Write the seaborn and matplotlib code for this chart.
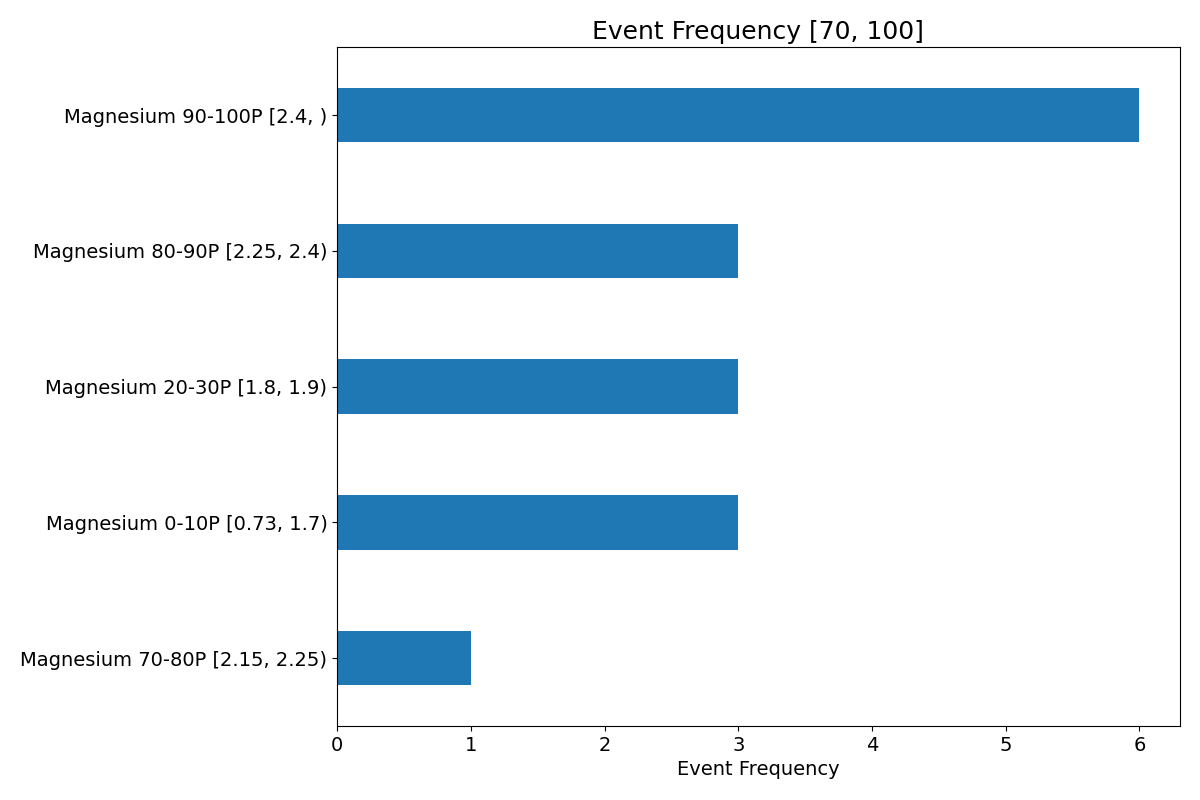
import matplotlib
matplotlib.use("Agg")
import matplotlib.pyplot as plt
import pandas as pd
import seaborn as sns

CATEGORIES = [
    "Magnesium 90-100P [2.4, )",
    "Magnesium 80-90P [2.25, 2.4)",
    "Magnesium 20-30P [1.8, 1.9)",
    "Magnesium 0-10P [0.73, 1.7)",
    "Magnesium 70-80P [2.15, 2.25)",
]
FREQUENCIES = [6, 3, 3, 3, 1]

df = pd.DataFrame({"category": CATEGORIES, "freq": FREQUENCIES})

fig, ax = plt.subplots(figsize=(12, 8), dpi=100)
sns.barplot(data=df, x="freq", y="category", orient="h", color="#1f77b4",
            saturation=1, width=0.4, ax=ax)
ax.set_title("Event Frequency [70, 100]", fontsize=18)
ax.set_xlabel("Event Frequency", fontsize=14)
ax.set_ylabel("")
ax.tick_params(axis="both", labelsize=14)
ax.set_xlim(0, 6.3)
ax.set_ylim(4.5, -0.5)
fig.subplots_adjust(left=0.281, right=0.983, top=0.941, bottom=0.0925)
fig.savefig("out.png", dpi=100)
